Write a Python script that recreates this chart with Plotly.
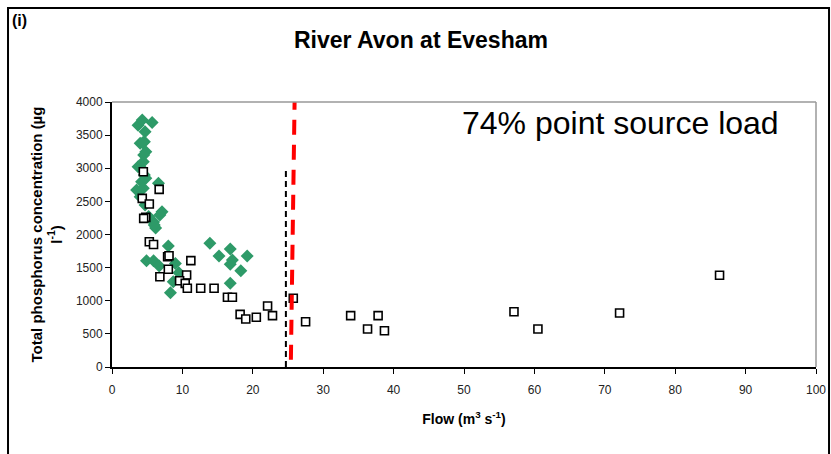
import plotly.graph_objects as go

# Green diamonds (flow m3/s, TP ug/l)
green_x = [3.7, 4.3, 5.7, 4.7, 4.0, 4.6, 4.35, 4.8, 4.45, 3.7, 4.2, 4.6, 4.2, 3.5, 4.45,
           6.6, 4.0, 4.7, 5.2, 7.1, 6.8, 5.9, 6.2, 6.0, 8.0, 4.9, 5.9, 6.7, 9.0, 9.5,
           8.7, 8.3, 13.9, 15.2, 16.8, 17.1, 16.8, 18.3, 19.2, 16.8, 4.5, 4.8]
green_y = [3650, 3728, 3690, 3550, 3376, 3400, 3385, 3250, 3099, 3023, 2998, 2900, 2797, 2672, 2697,
           2772, 2570, 2445, 2270, 2345, 2295, 2190, 2100, 2143, 1826, 1605, 1605, 1525, 1564, 1423,
           1288, 1122, 1867, 1675, 1781, 1615, 1550, 1454, 1675, 1264, 3200, 2850]

# Open squares
sq_x = [4.45, 6.7, 4.3, 5.3, 4.8, 4.5, 5.3, 5.9, 7.9, 8.1, 11.2, 8.0, 6.8, 10.6, 9.6,
        10.4, 10.7, 12.6, 14.5, 16.4, 17.1, 18.2, 19.0, 20.5, 22.1, 22.8, 25.75, 27.5,
        33.9, 36.3, 37.8, 38.7, 57.1, 60.5, 72.1, 86.3]
sq_y = [2948, 2681, 2546, 2460, 2259, 2244, 1891, 1850, 1665, 1680, 1605, 1475, 1363, 1389, 1303,
        1262, 1188, 1188, 1188, 1052, 1052, 795, 724, 750, 921, 775, 1037, 684,
        775, 574, 775, 548, 835, 574, 815, 1384]

# Reference lines
black_line_x = [24.7, 24.7]
black_line_y = [0, 2980]
red_line_x = [25.95, 25.4]
red_line_y = [4110, 40]

x_ticks = [0, 10, 20, 30, 40, 50, 60, 70, 80, 90, 100]
y_ticks = [0, 500, 1000, 1500, 2000, 2500, 3000, 3500, 4000]

fig = go.Figure()
fig.add_trace(go.Scatter(x=green_x, y=green_y, mode="markers",
                         marker=dict(symbol="diamond", size=10, color="#2e9a68",
                                     line=dict(width=0)), showlegend=False,
                         cliponaxis=False))
fig.add_trace(go.Scatter(x=sq_x, y=sq_y, mode="markers",
                         marker=dict(symbol="square", size=8, color="white",
                                     line=dict(width=1.6, color="black")), showlegend=False,
                         cliponaxis=False))
fig.add_trace(go.Scatter(x=black_line_x, y=black_line_y, mode="lines",
                         line=dict(color="black", width=2, dash="6px,4px"), showlegend=False))
fig.add_trace(go.Scatter(x=red_line_x, y=red_line_y, mode="lines",
                         line=dict(color="#ff0000", width=4, dash="15px,10px"), showlegend=False,
                         cliponaxis=False))

fig.update_layout(
    width=831, height=454, autosize=False,
    margin=dict(l=112, r=15, t=102, b=87, autoexpand=False),
    paper_bgcolor="white", plot_bgcolor="white",
    font=dict(family="Liberation Sans, Arial, sans-serif", color="black"),
    xaxis=dict(range=[0, 100], tickvals=x_ticks, ticks="outside", ticklen=5,
               tickcolor="black", linecolor="black", linewidth=2, showgrid=False,
               zeroline=False, tickfont=dict(size=12, color="#222"), automargin=False,
               ticklabelstandoff=6,
               title=dict(text="<b>Flow (m<sup>3</sup> s<sup>-1</sup>)</b>",
                          font=dict(size=14), standoff=18)),
    yaxis=dict(range=[0, 4000], tickvals=y_ticks, ticks="outside", ticklen=5,
               tickcolor="black", linecolor="black", linewidth=2, showgrid=False,
               zeroline=False, tickfont=dict(size=12, color="#222"), automargin=False,
               title=dict(text="<b>Total phosphorus concentration (µg<br>l<sup>-1</sup>)</b>",
                          font=dict(size=15), standoff=10)),
    shapes=[
        dict(type="line", xref="paper", yref="paper", x0=0, x1=1, y0=1, y1=1,
             line=dict(color="#999999", width=1.5)),
        dict(type="line", xref="paper", yref="paper", x0=1, x1=1, y0=0, y1=1,
             line=dict(color="#999999", width=1.5)),
        dict(type="rect", xref="paper", yref="paper", x0=-0.1477, x1=1.0185,
             y0=-0.36, y1=1.3547, line=dict(color="black", width=2)),
        dict(type="line", xref="paper", yref="paper", x0=-0.1477, x1=1.0185,
             y0=1.3547, y1=1.3547, line=dict(color="black", width=2)),
    ],
    annotations=[
        dict(text="<b>River Avon at Evesham</b>", xref="paper", yref="paper",
             x=(421 - 112) / 704, y=(367 - 40) / 265, xanchor="center", yanchor="middle",
             showarrow=False, font=dict(size=23)),
        dict(text="<b>(i)</b>", xref="paper", yref="paper",
             x=(10 - 112) / 704, y=(367 - 20) / 265, xanchor="left", yanchor="middle",
             showarrow=False, font=dict(size=16)),
        dict(text="74% point source load", xref="paper", yref="paper",
             x=(620 - 112) / 704, y=(367 - 123) / 265, xanchor="center", yanchor="middle",
             showarrow=False, font=dict(size=32)),
    ],
)

fig.write_html("out.html",
               config=dict(displayModeBar=False),
               post_script="document.body.style.margin='0';document.body.style.overflow='hidden';")
